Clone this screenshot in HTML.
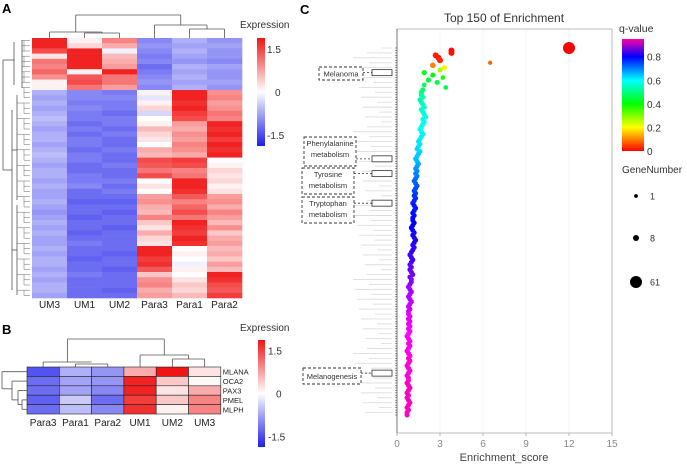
<!DOCTYPE html>
<html><head><meta charset="utf-8">
<style>
html,body{margin:0;padding:0;background:#fff;}
svg{display:block;font-family:"Liberation Sans",sans-serif;}
</style></head>
<body>
<svg id="fig" width="687" height="464" viewBox="0 0 687 464" xmlns="http://www.w3.org/2000/svg">
<text x="2" y="13" font-size="13" font-weight="bold">A</text>
<text x="2" y="334" font-size="13" font-weight="bold">B</text>
<text x="300" y="14" font-size="13" font-weight="bold">C</text>
<g id="gA"></g>
<g id="gB"></g>
<g id="gC"></g>
</svg>
<script>
// ---------- Panel A data ----------
const colsA = ["UM3","UM1","UM2","Para3","Para1","Para2"];
const aUM3 = [1.6,1.6,1.3,0.2,1.0,0.9,1.1,0.8,0.1,0.1,
 -0.6,-0.7,-0.6,-0.7,-0.6,-0.5,-0.6,-0.7,-0.6,-0.6,-0.7,-0.6,-0.5,-0.6,-0.7,-0.6,-0.6,-0.7,-0.6,-0.7,
 -0.7,-0.6,-0.7,-0.8,-0.7,-0.6,-0.7,-0.6,-0.7,-0.7,-0.6,-0.7,-0.6,-0.6,-0.7,-0.6,-0.7,-0.6,-0.6,-0.7];
const aUM1 = [0.1,0.3,1.6,1.6,1.6,1.6,0.1,1.2,1.3,1.0,
 -0.9,-0.9,-1.0,-0.9,-1.0,-1.0,-1.1,-1.0,-1.1,-1.0,-1.0,-1.1,-1.0,-1.0,-1.1,-1.1,-1.0,-1.0,-0.9,-1.1,
 -1.1,-1.2,-1.1,-1.1,-1.2,-1.1,-1.1,-1.2,-1.1,-1.0,-1.1,-1.1,-1.2,-1.1,-1.1,-1.0,-1.1,-1.1,-1.1,-1.1];
const aUM2 = [0.9,0.6,-0.1,0.5,0.6,0.7,1.6,1.0,1.0,0.7,
 -1.0,-0.9,-1.0,-1.0,-1.1,-1.0,-1.0,-1.1,-1.0,-1.1,-1.1,-1.0,-1.1,-1.1,-1.0,-1.1,-1.1,-1.0,-1.1,-1.0,
 -1.1,-1.2,-1.1,-1.2,-1.1,-1.1,-1.2,-1.1,-1.1,-1.1,-1.1,-1.2,-1.1,-1.1,-1.2,-1.1,-1.1,-1.1,-1.2,-1.1];
const aPara3 = [-0.9,-0.8,-0.9,-1.0,-0.9,-1.1,-1.0,-0.9,-0.8,-0.9,
 0.1,-0.2,0.1,0.3,-0.3,0.0,0.1,0.5,0.3,0.2,0.0,0.6,0.5,1.3,1.2,1.0,1.3,0.0,0.2,0.0,
 0.7,0.8,0.6,0.5,0.9,0.4,0.2,0.6,0.3,0.2,1.6,1.6,1.4,1.5,1.2,0.4,0.8,0.9,0.6,0.7];
const aPara1 = [-0.6,-0.7,-0.6,-0.7,-0.8,-0.6,-0.7,-0.6,-0.7,-0.6,
 1.6,1.6,1.5,1.6,1.4,1.3,0.7,0.6,0.8,0.7,0.9,0.8,0.6,1.4,1.3,0.9,1.0,1.6,1.6,1.5,
 1.2,0.9,1.1,1.3,1.0,1.6,1.5,1.4,1.6,1.5,0.0,0.1,0.0,-0.1,0.1,0.0,0.2,0.4,0.3,0.5];
const aPara2 = [-0.8,-0.7,-0.8,-0.8,-0.9,-0.7,-0.8,-0.8,-0.7,-0.8,
 0.8,0.9,0.7,0.8,1.0,0.9,1.6,1.5,1.6,1.4,1.6,1.5,1.6,0.0,0.1,0.3,0.2,0.3,0.1,0.2,
 0.7,0.8,0.6,0.9,0.7,0.5,0.8,0.4,0.6,0.7,0.5,0.6,0.4,0.7,0.5,1.6,1.5,1.3,1.2,1.4];
// ---------- Panel B data ----------
const colsB = ["Para3","Para1","Para2","UM1","UM2","UM3"];
const genesB = ["MLANA","OCA2","PAX3","PMEL","MLPH"];
const bPara3 = [-1.3,-1.1,-1.1,-1.2,-1.1];
const bPara1 = [-0.6,-0.7,-0.7,-0.4,-0.5];
const bPara2 = [-0.8,-0.8,-0.9,-1.1,-0.9];
const bUM1 = [0.6,1.6,1.6,1.4,1.5];
const bUM2 = [1.7,0.4,0.2,0.4,0.1];
const bUM3 = [0.2,0.05,0.6,0.9,0.9];
// ---------- Panel C data ----------
const xTicksC = [0,3,6,9,12,15];
const qTicks = [0,0.2,0.4,0.6,0.8];
const sizeLegend = [1,8,61];
const esC = [12.0,3.8,3.8,2.7,2.9,3.0,6.5,2.5,3.3,3.0,
 1.9,2.5,3.2,2.2,2.8,1.9,3.4,1.8,1.7,1.7,
 1.8,1.6,1.7,1.8,1.9,1.7,1.8,1.9,2.0,1.8,
 1.9,1.8,1.7,1.6,1.7,1.8,1.7,1.6,1.5,1.6,
 1.5,1.4,1.6,1.5,1.4,1.3,1.4,1.5,1.4,1.3,
 1.4,1.3,1.4,1.3,1.2,1.3,1.4,1.3,1.2,1.3,
 1.2,1.3,1.2,1.1,1.2,1.3,1.2,1.1,1.2,1.1,
 1.1,1.2,1.1,1.0,1.1,1.2,1.1,1.2,1.3,1.2,
 1.1,1.2,1.1,1.0,0.9,1.0,1.1,1.0,0.9,1.0,
 0.9,1.0,1.1,0.9,1.0,1.0,0.9,0.8,0.9,1.0,
 0.9,0.8,0.9,1.0,0.9,0.8,0.9,0.8,0.8,0.9,
 0.8,0.9,0.8,0.9,0.8,0.9,0.8,0.7,0.8,0.9,
 0.8,0.9,0.8,0.7,0.8,0.9,0.8,0.9,0.8,0.7,
 0.8,0.9,0.8,0.7,0.8,0.8,0.7,0.8,0.9,0.8,
 0.7,0.8,0.7,0.8,0.9,0.8,0.7,0.8,0.7,0.7];
const qC = [0.0,0.01,0.01,0.02,0.02,0.03,0.08,0.1,0.22,0.27,
 0.42,0.4,0.38,0.44,0.45,0.47,0.46,0.48,0.5,0.52,
 0.53,0.54,0.54,0.55,0.56,0.56,0.57,0.57,0.58,0.58,
 0.58,0.59,0.59,0.6,0.6,0.61,0.61,0.61,0.62,0.62,
 0.62,0.63,0.63,0.64,0.64,0.65,0.65,0.66,0.67,0.68,
 0.69,0.7,0.7,0.71,0.72,0.72,0.73,0.74,0.74,0.75,
 0.76,0.76,0.77,0.77,0.78,0.78,0.78,0.79,0.79,0.79,
 0.8,0.8,0.8,0.8,0.8,0.81,0.81,0.81,0.81,0.81,
 0.82,0.82,0.82,0.82,0.83,0.83,0.83,0.83,0.84,0.84,
 0.84,0.85,0.85,0.85,0.86,0.86,0.86,0.87,0.87,0.87,
 0.88,0.88,0.88,0.88,0.89,0.89,0.89,0.89,0.9,0.9,
 0.9,0.9,0.9,0.91,0.91,0.91,0.91,0.91,0.92,0.92,
 0.92,0.92,0.92,0.92,0.92,0.93,0.93,0.93,0.93,0.93,
 0.93,0.93,0.93,0.93,0.93,0.93,0.94,0.94,0.94,0.94,
 0.94,0.94,0.94,0.94,0.94,0.94,0.94,0.94,0.94,0.94];
const gC = [61,8,8,8,8,8,2,6,5,4, 5,4,3,5,4,3,3,4,5,5,
 4,4,4,4,4,4,4,4,4,4, 4,4,4,4,4,4,4,4,4,4,
 4,4,4,4,4,4,4,4,4,4, 4,4,4,4,4,4,4,4,4,4,
 4,4,4,4,4,4,4,4,4,4, 4,4,4,4,4,4,4,4,4,4,
 4,4,4,4,4,4,4,4,4,4, 4,4,4,4,4,4,4,4,4,4,
 4,4,4,4,4,4,4,4,4,4, 4,4,4,4,4,4,4,4,4,4,
 4,4,4,4,4,4,4,4,4,4, 4,4,4,4,4,4,4,4,4,4,
 4,4,4,4,4,4,4,4,4,4];
const annotations = ["Melanoma","Phenylalanine metabolism","Tyrosine metabolism","Tryptophan metabolism","Melanogenesis"];
const annotRows = [10,45,51,63,132];

const NS="http://www.w3.org/2000/svg";
function mk(tag, attrs, parent){const e=document.createElementNS(NS,tag);for(const k in attrs)e.setAttribute(k,attrs[k]);parent.appendChild(e);return e;}
function heatColor(v){
  v=Math.max(-1.7,Math.min(1.7,v));
  let t=Math.abs(v)/1.7;
  let c = v>=0?[240,20,20]:[30,30,235];
  const r=Math.round(255+(c[0]-255)*t),g=Math.round(255+(c[1]-255)*t),b=Math.round(255+(c[2]-255)*t);
  return `rgb(${r},${g},${b})`;
}
function colorbar(parent,x,y,w,h,id){
  const defs=mk('defs',{},parent);
  const lg=mk('linearGradient',{id:id,x1:0,y1:0,x2:0,y2:1},defs);
  [[0,1.7],[0.5,0],[1,-1.7]].forEach(s=>mk('stop',{offset:s[0],'stop-color':heatColor(s[1])},lg));
  const r=mk('rect',{x:x,y:y,width:w,height:h,fill:`url(#${id})`},parent);
  
  
  const labs=[["1.5",y+h*0.1],["0",y+h*0.5],["-1.5",y+h*0.9]];
  labs.forEach(l=>{const t=mk('text',{x:l[0]==="0"?x+18:x+10,y:l[1]+4,'font-size':10,fill:'#333'},parent);t.textContent=l[0];
    
    });
}
function line(parent,x1,y1,x2,y2,col,w){return mk('line',{x1,y1,x2,y2,stroke:col||'#555','stroke-width':w||0.8},parent);}

// ---------- Panel A ----------
(function(){
  const g=document.getElementById('gA');
  const data=[aUM3,aUM1,aUM2,aPara3,aPara1,aPara2];
  const x0=32,y0=38,cw=35,h=260,n=aUM3.length,rh=h/n;
  data.forEach((col,ci)=>col.forEach((v,ri)=>{
    const r=mk('rect',{x:x0+ci*cw,y:y0+ri*rh,width:cw+0.3,height:rh+0.3,fill:heatColor(v)},g);
    
    
  }));
  colsA.forEach((c,i)=>{const t=mk('text',{x:x0+cw*i+cw/2,y:308,'font-size':10,'text-anchor':'middle',fill:'#222'},g);t.textContent=c;
    
    });
  const cx=i=>x0+cw*i+cw/2;
  const L=[[cx(1),33,cx(1),38],[cx(2),33,cx(2),38],[cx(1),33,cx(2),33],[cx(0),32,cx(0),38],[cx(0),32,(cx(1)+cx(2))/2,32],[(cx(1)+cx(2))/2,32,(cx(1)+cx(2))/2,33],
   [cx(4),29,cx(4),38],[cx(5),29,cx(5),38],[cx(4),29,cx(5),29],[cx(3),25,cx(3),38],[cx(3),25,(cx(4)+cx(5))/2,25],[(cx(4)+cx(5))/2,25,(cx(4)+cx(5))/2,29],
   [(cx(0)+cx(1.5))/2,15,(cx(0)+cx(1.5))/2,32],[(cx(3)+cx(4.5))/2,15,(cx(3)+cx(4.5))/2,25],[(cx(0)+cx(1.5))/2,15,(cx(3)+cx(4.5))/2,15]];
  L.forEach(l=>line(g,...l));
  line(g,3,60,3,170);line(g,3,60,14,60);line(g,3,170,12,170);
  line(g,14,42,14,85);line(g,12,110,12,290);
  for(let i=0;i<n;i++){const yy=y0+i*rh+rh/2;const xs=i<10?22:(i%3===0?17:24);line(g,xs,yy,30,yy,'#666',0.5);}
  line(g,22,40,22,88);line(g,17,95,17,200);line(g,17,205,17,295);line(g,12,150,17,150);line(g,12,250,17,250);
  for(let i=0;i<n;i+=3){const a=y0+i*rh+rh/2,b=y0+Math.min(i+2,n-1)*rh+rh/2;line(g,24,a,24,b,'#666',0.5);}
  const t=mk('text',{x:240,y:28,'font-size':10,fill:'#333'},g);t.textContent='Expression';
  
  
  colorbar(g,257,38,8,108,'cbA');
})();

// ---------- Panel B ----------
(function(){
  const g=document.getElementById('gB');
  const data=[bPara3,bPara1,bPara2,bUM1,bUM2,bUM3];
  const x0=27,y0=367,cw=32.3,rh=9.4;
  data.forEach((col,ci)=>col.forEach((v,ri)=>{
    const r=mk('rect',{x:x0+ci*cw,y:y0+ri*rh,width:cw,height:rh,fill:heatColor(v),stroke:'#222','stroke-width':0.6},g);
    
    
  }));
  colsB.forEach((c,i)=>{const t=mk('text',{x:x0+cw*i+cw/2,y:426,'font-size':10,'text-anchor':'middle',fill:'#222'},g);t.textContent=c;
    
    });
  genesB.forEach((c,i)=>{const t=mk('text',{x:x0+cw*6+2,y:y0+rh*i+rh/2+3,'font-size':7.5,fill:'#222'},g);t.textContent=c;
    
    });
  const cx=i=>x0+cw*i+cw/2;
  [[cx(1),364,cx(1),367],[cx(2),364,cx(2),367],[cx(1),364,cx(2),364],[cx(0),362,cx(0),367],[cx(0),362,(cx(1)+cx(2))/2,362],
   [cx(4),359,cx(4),367],[cx(5),359,cx(5),367],[cx(4),359,cx(5),359],[cx(3),355,cx(3),367],[cx(3),355,(cx(4)+cx(5))/2,355],[(cx(4)+cx(5))/2,355,(cx(4)+cx(5))/2,359],
   [(cx(0)+cx(1.5))/2,339,(cx(0)+cx(1.5))/2,362],[(cx(3)+cx(4.5))/2,339,(cx(3)+cx(4.5))/2,355],[(cx(0)+cx(1.5))/2,339,(cx(3)+cx(4.5))/2,339]].forEach(l=>line(g,...l));
  const ry=i=>y0+rh*i+rh/2;
  [[2,ry(0),27,ry(0)],[2,ry(0),2,(ry(1)+ry(2))/2+3],[2,(ry(1)+ry(2))/2+3,12,(ry(1)+ry(2))/2+3],
   [12,ry(1),27,ry(1)],[12,ry(1),12,ry(3)],[12,ry(3),18,ry(3)],[18,ry(2),27,ry(2)],[18,ry(2),18,ry(3.5)],[18,ry(3.5),22,ry(3.5)],[22,ry(3),27,ry(3)],[22,ry(4),27,ry(4)],[22,ry(3),22,ry(4)]].forEach(l=>line(g,...l));
  const t=mk('text',{x:240,y:331,'font-size':10,fill:'#333'},g);t.textContent='Expression';
  
  
  colorbar(g,258,340,7,107,'cbB');
})();

// ---------- Panel C ----------
(function(){
  const g=document.getElementById('gC');
  const px0=397,px1=612,py0=29,py1=433,rowTop=48,rowBot=415;
  const xs=v=>px0+(v-0)/(15-0)*(px1-px0);
  const ys=i=>rowTop+i*(rowBot-rowTop)/(esC.length-1);
  const rad=gn=>1.3+0.6*Math.sqrt(gn);
  const qhue=q=>q<=0.8?q*300:Math.min(320,240+(q-0.8)*(80/0.15));
  const qcol=q=>`hsl(${qhue(q)},100%,50%)`;
  const title=mk('text',{x:504,y:22,'font-size':12,'text-anchor':'middle',fill:'#333'},g);title.textContent='Top 150 of  Enrichment';
  
  
  xTicksC.forEach(v=>{if(v>0&&v<15)line(g,xs(v),py0,xs(v),py1,'#eee',0.6);
    const t=mk('text',{x:xs(v),y:447,'font-size':10,'text-anchor':'middle',fill:'#888'},g);t.textContent=v;
    
    
    line(g,xs(v),py1,xs(v),py1+3,'#888',0.6);});
  const frame=mk('rect',{x:px0,y:py0,width:px1-px0,height:py1-py0,fill:'none',stroke:'#aaa','stroke-width':0.8},g);
  
  
  line(g,px0,py0,px0,py1,'#666',0.8);
  const xl=mk('text',{x:504,y:461,'font-size':11,'text-anchor':'middle',fill:'#444'},g);xl.textContent='Enrichment_score';
  
  
  esC.forEach((v,i)=>{const y=ys(i);if(i%2===0){const w=12+((i*37)%30);line(g,393-w,y,392,y,'#ddd',0.9);}line(g,395,y,397,y,'#555',0.6);});
  esC.forEach((v,i)=>{
    const c=mk('circle',{cx:xs(v),cy:ys(i),r:rad(gC[i]),fill:qcol(qC[i])},g);
    
    
  });
  const boxes=[[319,67,44,13],[304,137,52,29],[302,168,52,26],[302,197,52,26],[303,368,58,16]];
  annotations.forEach((a,k)=>{
    const b=boxes[k],y=ys(annotRows[k]);
    const r=mk('rect',{x:b[0],y:b[1],width:b[2],height:b[3],fill:'#fff',stroke:'#333','stroke-width':0.9,'stroke-dasharray':'3,2'},g);
    
    
    const words=a.split(' ');
    words.forEach((w,j)=>{const t=mk('text',{x:b[0]+b[2]/2,y:b[1]+(words.length===1?b[3]/2+3:9+j*11),'font-size':7.5,'text-anchor':'middle',fill:'#333'},g);t.textContent=w;
      
      });
    const sr=mk('rect',{x:372,y:y-3,width:20,height:6,fill:'#fff',stroke:'#333','stroke-width':0.8},g);
    
    
    const l=line(g,b[0]+b[2],y,372,y,'#333',0.8);l.setAttribute('stroke-dasharray','2,2');
  });
  const defs=mk('defs',{},g);
  const lg=mk('linearGradient',{id:'qg',x1:0,y1:1,x2:0,y2:0},defs);
  [0,0.2,0.4,0.6,0.8,0.95].forEach(q=>mk('stop',{offset:q/0.95,'stop-color':qcol(q)},lg));
  const cb=mk('rect',{x:622,y:39,width:22,height:112,fill:'url(#qg)'},g);
  
  
  const qt=mk('text',{x:619,y:32,'font-size':10.5,fill:'#333'},g);qt.textContent='q-value';
  
  
  qTicks.forEach(q=>{const y=151-q/0.95*112;const t=mk('text',{x:647,y:y+4,'font-size':10,fill:'#333'},g);t.textContent=q;
    
    });
  const gt=mk('text',{x:622,y:173,'font-size':10,fill:'#333'},g);gt.textContent='GeneNumber';
  
  
  const ly=[196,238,282];
  sizeLegend.forEach((s,k)=>{
    const c=mk('circle',{cx:636,cy:ly[k],r:rad(s),fill:'#000'},g);
    
    
    const t=mk('text',{x:650,y:ly[k]+3.5,'font-size':9,fill:'#333'},g);t.textContent=s;
    
    
  });
})();
</script>
</body></html>
